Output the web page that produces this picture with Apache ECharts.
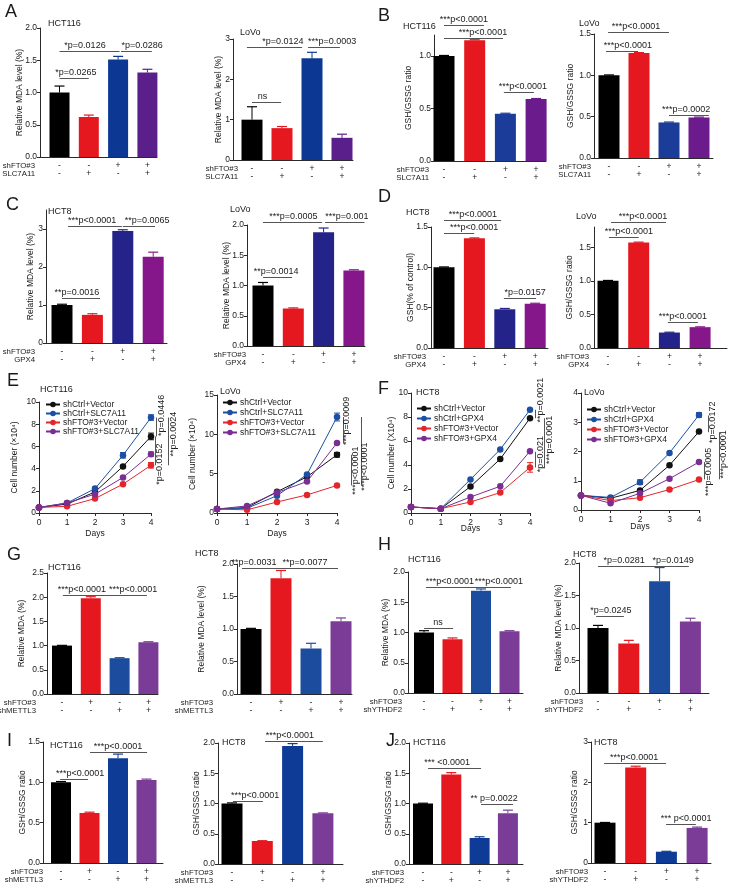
<!DOCTYPE html>
<html><head><meta charset="utf-8">
<script src="https://cdn.jsdelivr.net/npm/echarts@6/dist/echarts.min.js"></script>
<style>html,body{margin:0;padding:0;background:#fff}#c{width:732px;height:888px}</style>
</head><body><div id="c"></div>
<script>
// ================= DATA =================
// sign rows (categories)
const SG_FTO_AD = ['-','-','+','+'];
const SG_PARTNER_AD = ['-','+','-','+'];
const SG_FTO_GI = ['-','+','-','+'];
const SG_METTL3 = ['-','-','+','+'];
const SG_FTO_HJ = ['-','-','+','+'];
const SG_YTHDF2 = ['-','+','-','+'];
const ROWS_SLC = ['shFTO#3','SLC7A11'];
const ROWS_GPX = ['shFTO#3','GPX4'];
const ROWS_METTL3 = ['shFTO#3','shMETTL3'];
const ROWS_YTHDF2 = ['shFTO#3','shYTHDF2'];

// bar values / errors
const A1_vals = [1.00, 0.62, 1.51, 1.31]; const A1_errs = [0.10, 0.03, 0.05, 0.05];
const A2_vals = [1.00, 0.79, 2.52, 0.55]; const A2_errs = [0.32, 0.04, 0.15, 0.09];
const B1_vals = [1.00, 1.15, 0.45, 0.59]; const B1_errs = [0.005, 0.005, 0.005, 0.005];
const B2_vals = [1.00, 1.27, 0.43, 0.49]; const B2_errs = [0.005, 0.005, 0.005, 0.005];
const C1_vals = [1.00, 0.74, 2.95, 2.27]; const C1_errs = [0.02, 0.03, 0.03, 0.12];
const C2_vals = [1.00, 0.62, 1.88, 1.25]; const C2_errs = [0.05, 0.01, 0.07, 0.01];
const D1_vals = [1.00, 1.36, 0.48, 0.55]; const D1_errs = [0.005, 0.005, 0.01, 0.005];
const D2_vals = [1.00, 1.57, 0.23, 0.31]; const D2_errs = [0.005, 0.005, 0.005, 0.005];
const G1_vals = [1.00, 1.98, 0.74, 1.07]; const G1_errs = [0.005, 0.03, 0.01, 0.01];
const G2_vals = [1.00, 1.78, 0.70, 1.12]; const G2_errs = [0.01, 0.12, 0.08, 0.05];
const H1_vals = [1.00, 0.89, 1.69, 1.02]; const H1_errs = [0.03, 0.02, 0.03, 0.01];
const H2_vals = [1.00, 0.76, 1.72, 1.10]; const H2_errs = [0.04, 0.05, 0.21, 0.05];
const I1_vals = [1.00, 0.62, 1.30, 1.03]; const I1_errs = [0.01, 0.01, 0.05, 0.01];
const I2_vals = [1.00, 0.38, 1.95, 0.84]; const I2_errs = [0.01, 0.005, 0.04, 0.005];
const J1_vals = [1.00, 1.48, 0.43, 0.84]; const J1_errs = [0.005, 0.03, 0.02, 0.05];
const J2_vals = [1.00, 2.37, 0.28, 0.87]; const J2_errs = [0.005, 0.03, 0.01, 0.02];

// y tick values
const yt_A1 = [0, 0.5, 1.0, 1.5, 2.0];
const yt_A2 = [0, 1, 2, 3];
const yt_B1 = [0, 0.5, 1.0];
const yt_B2 = [0, 0.5, 1.0, 1.5];
const yt_C1 = [0, 1, 2, 3];
const yt_C2 = [0, 0.5, 1.0, 1.5, 2.0];
const yt_D1 = [0, 0.5, 1.0, 1.5];
const yt_D2 = [0, 0.5, 1.0, 1.5];
const yt_G1 = [0, 0.5, 1.0, 1.5, 2.0, 2.5];
const yt_G2 = [0, 0.5, 1.0, 1.5, 2.0];
const yt_H1 = [0, 0.5, 1.0, 1.5, 2.0];
const yt_H2 = [0, 0.5, 1.0, 1.5, 2.0];
const yt_I1 = [0, 0.5, 1.0, 1.5];
const yt_I2 = [0, 0.5, 1.0, 1.5, 2.0];
const yt_J1 = [0, 0.5, 1.0, 1.5, 2.0];
const yt_J2 = [0, 1, 2, 3];
const yt_E1 = [0, 2, 4, 6, 8, 10];
const yt_E2 = [0, 5, 10, 15];
const yt_F1 = [0, 2, 4, 6, 8, 10];
const yt_F2 = [0, 1, 2, 3, 4];

// significance brackets: [fromIndex, toIndex, yValue, text, textCenterIndex]
const A1_sig = [[0,1.0,1.22,'*p=0.0265',0.56],[0,2.05,1.64,'*p=0.0126',0.87],[2.1,3.15,1.64,'*p=0.0286',2.82]];
const A2_sig = [[0,0.97,1.44,'ns',0.35],[-0.17,1.67,2.80,'*p=0.0124',1.03],[1.87,2.93,2.80,'***p=0.0003',2.67]];
const B1_sig = [[0,1.3,1.30,'***p<0.0001',0.65],[0,1.92,1.17,'***p<0.0001',1.27],[1.95,2.93,0.66,'***p<0.0001',2.57]];
const B2_sig = [[-0.03,2.0,1.52,'***p<0.0001',0.9],[-0.1,0.97,1.30,'***p<0.0001',0.63],[2.0,3.33,0.52,'***p=0.0002',2.57]];
const C1_sig = [[0,1.25,1.18,'**p=0.0016',0.49],[0.2,1.97,3.08,'***p<0.0001',0.99],[2.0,3.06,3.08,'**p=0.0065',2.8]];
const C2_sig = [[0,0.96,1.14,'**p=0.0014',0.43],[0,1.95,2.05,'***p=0.0005',1.0],[2.05,3.35,2.05,'***p=0.001',2.77]];
const D1_sig = [[0,1.88,1.59,'***p<0.0001',0.95],[0,0.99,1.43,'***p<0.0001',0.99],[1.97,3.03,0.62,'*p=0.0157',2.67]];
const D2_sig = [[0.1,1.89,1.87,'***p<0.0001',1.14],[0.03,1.0,1.65,'***p<0.0001',0.68],[1.95,2.93,0.39,'***p<0.0001',2.44]];
const G1_sig = [[0.03,2.0,2.05,'***p<0.0001',0.69],[1.3,2.95,2.05,'***p<0.0001',2.47]];
const G2_sig = [[-0.3,1.0,1.94,'**p=0.0031',0.1],[1.0,2.9,1.94,'**p=0.0077',1.8]];
const H1_sig = [[0,1.02,1.07,'ns',0.49],[0.07,2.0,1.75,'***p<0.0001',0.91],[2.0,3.05,1.75,'***p<0.0001',2.63]];
const H2_sig = [[-0.06,0.84,1.19,'*p=0.0245',0.42],[0,1.98,1.96,'*p=0.0281',0.85],[1.98,2.95,1.96,'*p=0.0149',2.44]];
const I1_sig = [[-0.03,0.95,1.04,'***p<0.0001',0.67],[1.02,3.02,1.37,'***p<0.0001',2.0]];
const I2_sig = [[0.03,1.02,1.04,'***p<0.0001',0.76],[1.09,3.0,2.04,'***p<0.0001',1.91]];
const J1_sig = [[0.18,2.05,1.58,'*** <0.0001',0.85],[2.05,3.18,0.99,'** p=0.0022',2.51]];
const J2_sig = [[-0.03,1.99,2.48,'***p<0.0001',0.95],[1.99,2.96,0.97,'*** p<0.0001',2.64]];

// growth curves
const days = [0, 1, 2, 3, 4];
const E1_names = ['shCtrl+Vector','shCtrl+SLC7A11','shFTO#3+Vector','shFTO#3+SLC7A11'];
const E1_ctrlVector   = [0.5, 0.8, 1.9, 4.2, 6.9];
const E1_ctrlSLC7A11  = [0.5, 0.9, 2.2, 5.2, 8.6];
const E1_ftoVector    = [0.5, 0.6, 1.3, 2.6, 4.3];
const E1_ftoSLC7A11   = [0.5, 0.9, 1.7, 3.2, 5.3];
const E1_err = [[0,0,0,0.1,0.3],[0,0,0.1,0.25,0.25],[0,0,0,0.1,0.25],[0,0,0,0.1,0.2]];
const E2_ctrlVector   = [0.5, 0.7, 2.7, 4.6, 7.4];
const E2_ctrlSLC7A11  = [0.5, 0.6, 2.2, 4.9, 12.2];
const E2_ftoVector    = [0.5, 0.4, 1.4, 2.3, 3.5];
const E2_ftoSLC7A11   = [0.5, 0.9, 2.6, 4.0, 8.9];
const E2_err = [[0,0,0,0,0.3],[0,0,0,0,0.5],[0,0,0,0,0],[0,0,0,0,0]];
const F_names = ['shCtrl+Vector','shCtrl+GPX4','shFTO#3+Vector','shFTO#3+GPX4'];
const F1_ctrlVector = [0.5, 0.36, 2.2, 4.5, 7.9];
const F1_ctrlGPX4   = [0.5, 0.36, 2.8, 5.3, 8.6];
const F1_ftoVector  = [0.5, 0.36, 0.92, 1.7, 3.8];
const F1_ftoGPX4    = [0.5, 0.36, 1.33, 2.23, 5.15];
const F1_err = [[0,0,0,0,0],[0,0,0,0,0],[0,0,0,0,0.4],[0,0,0,0,0]];
const F2_ctrlVector = [0.5, 0.40, 0.67, 1.53, 2.68];
const F2_ctrlGPX4   = [0.5, 0.43, 0.95, 1.95, 3.25];
const F2_ftoVector  = [0.5, 0.32, 0.42, 0.70, 1.04];
const F2_ftoGPX4    = [0.5, 0.23, 0.57, 1.07, 1.64];
const F2_err = [[0,0,0,0,0],[0,0,0.08,0,0.08],[0,0,0,0,0],[0,0,0,0,0]];

// vertical brackets for growth curves: [lineDx, yFrom, yTo, text, textDx, textCenterY]
const E1_vsig = [[5,8.6,6.9,'*p=0.0446',11,8.8],[4,6.9,4.3,'*p=0.0152',9,4.4],[17,8.6,4.3,'**p=0.0024',23,7.1]];
const E2_vsig = [[6,12.2,8.9,'***p=0.0009',10,11.7],[14,7.4,3.5,'***p<0.0001',19,5.4],[24,12.2,3.5,'***p<0.0001',28,5.9]];
const F1_vsig = [[5,8.6,7.9,'**p=0.0021',11,9.4],[5,5.1,3.8,'*p=0.021',11,4.9],[14,7.9,3.8,'***p=0.0001',20,6.1]];
const F2_vsig = [[9,3.23,2.66,'*p=0.0172',14,3.0],[5,1.64,1.05,'***p=0.0005',10,1.3],[20,2.66,1.05,'***p<0.0001',25,1.9]];

// ================= STYLE / LAYOUT =================
const FONT = 'Arial, "Liberation Sans", Helvetica, sans-serif';
const AX = '#2a2a2a', TXT = '#1a1a1a', BR = '#555';
const RED = '#e5171f';
const PAL_A = ['#000000', RED, '#0c3893', '#5a1f8a'];
const PAL_B = ['#000000', RED, '#1b3c98', '#6c1b8c'];
const PAL_C = ['#000000', RED, '#23238a', '#86178a'];
const PAL_G = ['#000000', RED, '#1c4c9e', '#7a3c96'];
const PAL_I = ['#000000', RED, '#0e3b96', '#7a3c96'];
const LINE_COLORS = ['#111111', '#1d4fa3', '#e3262b', '#7a2e93'];

const barPanels = [
 {vals:A1_vals, errs:A1_errs, sig:A1_sig, ticks:yt_A1, dec:1, pal:PAL_A, rows:ROWS_SLC, s1:SG_FTO_AD, s2:SG_PARTNER_AD, yName:'Relative MDA level (%)', title:'HCT116', tx:48, ty:24, L:40, R:157, c0:59.5, s:29.3, top:28, y0:157, ymax:2.0, nameGap:12, rowX:35},
 {vals:A2_vals, errs:A2_errs, sig:A2_sig, ticks:yt_A2, dec:0, pal:PAL_A, rows:ROWS_SLC, s1:SG_FTO_AD, s2:SG_PARTNER_AD, yName:'Relative MDA level (%)', title:'LoVo', tx:240, ty:33, L:233, R:353, c0:252, s:30, top:39, y0:160, ymax:3, nameGap:7, rowX:238},
 {vals:B1_vals, errs:B1_errs, sig:B1_sig, ticks:yt_B1, dec:1, pal:PAL_B, rows:ROWS_SLC, s1:SG_FTO_AD, s2:SG_PARTNER_AD, yName:'GSH/GSSG ratio', title:'HCT116', tx:403, ty:27, L:434, R:546, c0:444, s:30.7, top:35, y0:161, ymax:1.2, nameGap:21, rowX:429},
 {vals:B2_vals, errs:B2_errs, sig:B2_sig, ticks:yt_B2, dec:1, pal:PAL_B, rows:ROWS_SLC, s1:SG_FTO_AD, s2:SG_PARTNER_AD, yName:'GSH/GSSG ratio', title:'LoVo', tx:579, ty:24, L:594, R:713, c0:609, s:30, top:34, y0:158, ymax:1.5, nameGap:19, rowX:591},
 {vals:C1_vals, errs:C1_errs, sig:C1_sig, ticks:yt_C1, dec:0, pal:PAL_C, rows:ROWS_GPX, s1:SG_FTO_AD, s2:SG_PARTNER_AD, yName:'Relative MDA level (%)', title:'HCT8', tx:48, ty:212, L:46, R:167, c0:62, s:30.4, top:210, y0:343, ymax:3.5, nameGap:11, rowX:35},
 {vals:C2_vals, errs:C2_errs, sig:C2_sig, ticks:yt_C2, dec:1, pal:PAL_C, rows:ROWS_GPX, s1:SG_FTO_AD, s2:SG_PARTNER_AD, yName:'Relative MDA level (%)', title:'LoVo', tx:230, ty:210, L:247, R:365, c0:263, s:30.3, top:225, y0:346, ymax:2.0, nameGap:8, rowX:246},
 {vals:D1_vals, errs:D1_errs, sig:D1_sig, ticks:yt_D1, dec:1, pal:PAL_C, rows:ROWS_GPX, s1:SG_FTO_AD, s2:SG_PARTNER_AD, yName:'GSH(% of control)', title:'HCT8', tx:406, ty:213, L:431, R:548, c0:444, s:30.4, top:227, y0:348, ymax:1.5, nameGap:12, rowX:426},
 {vals:D2_vals, errs:D2_errs, sig:D2_sig, ticks:yt_D2, dec:1, pal:PAL_C, rows:ROWS_GPX, s1:SG_FTO_AD, s2:SG_PARTNER_AD, yName:'GSH/GSSG ratio', title:'LoVo', tx:576, ty:217, L:594, R:727, c0:608, s:30.7, top:227, y0:348, ymax:1.8, nameGap:20, rowX:589},
 {vals:G1_vals, errs:G1_errs, sig:G1_sig, ticks:yt_G1, dec:1, pal:PAL_G, rows:ROWS_METTL3, s1:SG_FTO_GI, s2:SG_METTL3, yName:'Relative MDA (%)', title:'HCT116', tx:48, ty:568, L:47, R:158, c0:62, s:28.8, top:573, y0:694, ymax:2.5, nameGap:21, rowX:36},
 {vals:G2_vals, errs:G2_errs, sig:G2_sig, ticks:yt_G2, dec:1, pal:PAL_G, rows:ROWS_METTL3, s1:SG_FTO_GI, s2:SG_METTL3, yName:'Relative MDA level (%)', title:'HCT8', tx:195, ty:554, L:237, R:352, c0:251, s:30, top:564, y0:694, ymax:2.0, nameGap:31, rowX:213},
 {vals:H1_vals, errs:H1_errs, sig:H1_sig, ticks:yt_H1, dec:1, pal:PAL_G, rows:ROWS_YTHDF2, s1:SG_FTO_HJ, s2:SG_YTHDF2, yName:'Relative MDA (%)', title:'HCT116', tx:408, ty:560, L:408, R:523, c0:424, s:28.5, top:572, y0:693, ymax:2.0, nameGap:18, rowX:402},
 {vals:H2_vals, errs:H2_errs, sig:H2_sig, ticks:yt_H2, dec:1, pal:PAL_G, rows:ROWS_YTHDF2, s1:SG_FTO_HJ, s2:SG_YTHDF2, yName:'Relative MDA level (%)', title:'HCT8', tx:573, ty:555, L:579, R:709, c0:598, s:30.8, top:563, y0:693, ymax:2.0, nameGap:16, rowX:583},
 {vals:I1_vals, errs:I1_errs, sig:I1_sig, ticks:yt_I1, dec:1, pal:PAL_I, rows:ROWS_METTL3, s1:SG_FTO_GI, s2:SG_METTL3, yName:'GSH/GSSG ratio', title:'HCT116', tx:50, ty:746, L:43, R:163, c0:61, s:28.5, top:742, y0:863, ymax:1.5, nameGap:11, rowX:43},
 {vals:I2_vals, errs:I2_errs, sig:I2_sig, ticks:yt_I2, dec:1, pal:PAL_I, rows:ROWS_METTL3, s1:SG_FTO_GI, s2:SG_METTL3, yName:'GSH/GSSG ratio', title:'HCT8', tx:222, ty:743, L:218, R:343, c0:232, s:30.3, top:743, y0:864, ymax:2.0, nameGap:17, rowX:213},
 {vals:J1_vals, errs:J1_errs, sig:J1_sig, ticks:yt_J1, dec:1, pal:PAL_I, rows:ROWS_YTHDF2, s1:SG_FTO_HJ, s2:SG_YTHDF2, yName:'GSH/GSSG ratio', title:'HCT116', tx:413, ty:743, L:409, R:523, c0:423, s:28.3, top:743, y0:864, ymax:2.0, nameGap:15, rowX:404},
 {vals:J2_vals, errs:J2_errs, sig:J2_sig, ticks:yt_J2, dec:0, pal:PAL_I, rows:ROWS_YTHDF2, s1:SG_FTO_HJ, s2:SG_YTHDF2, yName:'GSH/GSSG ratio', title:'HCT8', tx:594, ty:743, L:591, R:711, c0:605, s:30.7, top:742, y0:863, ymax:3, nameGap:12, rowX:588}
];

const linePanels = [
 {names:E1_names, series:[E1_ctrlVector,E1_ctrlSLC7A11,E1_ftoVector,E1_ftoSLC7A11], errs:E1_err, vsig:E1_vsig, ticks:yt_E1, ymax:10, yName:'Cell number (\u00d710\u2074)', title:'HCT116', tx:40, ty:390, L:39, R:151, top:402, y0:513, nameGap:20, daysGap:16, lg:{left:45, top:400, lh:7.3, gap:0}},
 {names:E1_names, series:[E2_ctrlVector,E2_ctrlSLC7A11,E2_ftoVector,E2_ftoSLC7A11], errs:E2_err, vsig:E2_vsig, ticks:yt_E2, ymax:15, yName:'Cell number (\u00d710\u2074)', title:'LoVo', tx:220, ty:392, L:217, R:337, top:395, y0:513, nameGap:20, daysGap:16, lg:{left:222, top:398, lh:8, gap:1}},
 {names:F_names, series:[F1_ctrlVector,F1_ctrlGPX4,F1_ftoVector,F1_ftoGPX4], errs:F1_err, vsig:F1_vsig, ticks:yt_F1, ymax:10, yName:'Cell number (X10\u2074)', title:'HCT8', tx:416, ty:393, L:411, R:530, top:393, y0:513, nameGap:15, daysGap:11, lg:{left:416, top:404, lh:8, gap:1}},
 {names:F_names, series:[F2_ctrlVector,F2_ctrlGPX4,F2_ftoVector,F2_ftoGPX4], errs:F2_err, vsig:F2_vsig, ticks:yt_F2, ymax:4, yName:'', title:'LoVo', tx:584, ty:393, L:581, R:699, top:393, y0:510, nameGap:12, daysGap:12, lg:{left:586, top:405, lh:8, gap:1}}
];

const letters = [['A',5,12],['B',378,16],['C',6,205],['D',378,197],['E',7,381],['F',378,389],['G',7,555],['H',378,545],['I',7,741],['J',386,741]];

// ================= BUILD =================
const option = {animation:false, textStyle:{fontFamily:FONT}, grid:[], xAxis:[], yAxis:[], series:[], legend:[]};
const lbl = {fontSize:8.5, color:TXT, fontFamily:FONT};

barPanels.forEach((p, gi) => {
  p.gi = gi;
  const gap = Math.max(p.nameGap, p.dec === 1 ? 16 : 10);
  option.grid.push({left:p.L, top:p.top, width:p.R - p.L, height:p.y0 - p.top});
  option.xAxis.push({gridIndex:gi, type:'value', min:(p.L - p.c0)/p.s, max:(p.R - p.c0)/p.s,
    axisLine:{show:true, onZero:false, lineStyle:{color:AX, width:1}}, axisTick:{show:false}, splitLine:{show:false},
    axisLabel:Object.assign({show:true, customValues:[0,1,2,3], lineHeight:8.5, margin:4,
      formatter:(v) => { const i = Math.round(v); return p.s1[i] + '\n' + p.s2[i]; }}, lbl)});
  option.yAxis.push({gridIndex:gi, type:'value', min:0, max:p.ymax,
    axisLine:{show:true, onZero:false, lineStyle:{color:AX, width:1}},
    axisTick:{show:true, length:3, customValues:p.ticks, lineStyle:{color:AX}},
    axisLabel:Object.assign({customValues:p.ticks, margin:3, formatter:(v) => Number(v).toFixed(p.dec)}, lbl),
    splitLine:{show:false}, name:p.yName, nameLocation:'middle', nameGap:gap, nameMoveOverlap:false,
    nameTextStyle:{fontSize:8.5, color:TXT, fontFamily:FONT}});
  option.series.push({type:'bar', xAxisIndex:gi, yAxisIndex:gi, barWidth:Math.round(p.s*0.69), silent:true,
    data:p.vals.map((v,i) => ({value:[i, v], itemStyle:{color:p.pal[i]}}))});
  option.series.push({type:'custom', xAxisIndex:gi, yAxisIndex:gi, z:5, silent:true,
    data:p.vals.map((v,i) => [i, v, p.errs[i]]),
    renderItem:(params, api) => {
      const x = api.value(0), v = api.value(1), e = api.value(2);
      if (!e) return null;
      const b = api.coord([x, v]), t = api.coord([x, v + e]);
      const c = p.pal[params.dataIndex];
      return {type:'group', children:[
        {type:'line', shape:{x1:b[0], y1:b[1], x2:t[0], y2:t[1]}, style:{stroke:c, lineWidth:1}},
        {type:'line', shape:{x1:t[0]-5, y1:t[1], x2:t[0]+5, y2:t[1]}, style:{stroke:c, lineWidth:1.2}}]};
    }});
});

linePanels.forEach((p, k) => {
  const gi = barPanels.length + k; p.gi = gi;
  option.grid.push({left:p.L, top:p.top, width:p.R - p.L, height:p.y0 - p.top});
  option.xAxis.push({gridIndex:gi, type:'value', min:0, max:4, interval:1,
    axisLine:{show:true, onZero:false, lineStyle:{color:AX, width:1}},
    axisTick:{show:true, length:3, lineStyle:{color:AX}}, splitLine:{show:false},
    axisLabel:Object.assign({margin:5}, lbl),
    name:'Days', nameLocation:'middle', nameGap:p.daysGap, nameMoveOverlap:false,
    nameTextStyle:{fontSize:8.5, color:TXT, fontFamily:FONT}});
  option.yAxis.push({gridIndex:gi, type:'value', min:0, max:p.ymax,
    axisLine:{show:true, onZero:false, lineStyle:{color:AX, width:1}},
    axisTick:{show:true, length:3, customValues:p.ticks, lineStyle:{color:AX}},
    axisLabel:Object.assign({customValues:p.ticks, margin:3}, lbl), splitLine:{show:false},
    name:p.yName, nameLocation:'middle', nameGap:p.nameGap, nameMoveOverlap:false,
    nameTextStyle:{fontSize:8.5, color:TXT, fontFamily:FONT}});
  p.series.forEach((vals, j) => {
    option.series.push({type:'line', name:p.names[j], xAxisIndex:gi, yAxisIndex:gi, clip:false, silent:true,
      symbol:'circle', symbolSize:6.5, data:days.map((d,i) => [d, vals[i]]),
      lineStyle:{width:1, color:LINE_COLORS[j]}, itemStyle:{color:LINE_COLORS[j]}, z:2 + j});
  });
  const errData = [];
  p.series.forEach((vals, j) => days.forEach((d,i) => { if (p.errs[j][i]) errData.push([d, vals[i], p.errs[j][i], j]); }));
  option.series.push({type:'custom', xAxisIndex:gi, yAxisIndex:gi, z:10, silent:true, data:errData,
    renderItem:(params, api) => {
      const x = api.value(0), v = api.value(1), e = api.value(2), c = LINE_COLORS[api.value(3)];
      const lo = api.coord([x, v - e]), hi = api.coord([x, v + e]);
      return {type:'group', children:[
        {type:'line', shape:{x1:lo[0], y1:lo[1], x2:hi[0], y2:hi[1]}, style:{stroke:c, lineWidth:1}},
        {type:'line', shape:{x1:hi[0]-3, y1:hi[1], x2:hi[0]+3, y2:hi[1]}, style:{stroke:c, lineWidth:1}},
        {type:'line', shape:{x1:lo[0]-3, y1:lo[1], x2:lo[0]+3, y2:lo[1]}, style:{stroke:c, lineWidth:1}}]};
    }});
  option.legend.push({data:p.names, orient:'vertical', left:p.lg.left, top:p.lg.top, padding:0,
    itemGap:p.lg.gap, itemWidth:14, itemHeight:7, selectedMode:false,
    textStyle:{fontSize:8.5, color:TXT, fontFamily:FONT, lineHeight:p.lg.lh, padding:[0,0,0,-2]}});
});

const chart = echarts.init(document.getElementById('c'), null, {renderer:'canvas'});
chart.setOption(option);

// ================= ANNOTATIONS =================
const gfx = [];
function txt(x, y, s, opt) {
  return Object.assign({type:'text', x:x, y:y, silent:true, z:50,
    style:Object.assign({text:s, fill:TXT, fontSize:8.5, fontFamily:FONT, align:'left', verticalAlign:'middle'}, opt || {})});
}
function seg(x1, y1, x2, y2) {
  return {type:'line', silent:true, z:49, shape:{x1:x1, y1:y1, x2:x2, y2:y2}, style:{stroke:BR, lineWidth:1}};
}
const px = (gi, pt) => chart.convertToPixel({gridIndex:gi}, pt);

letters.forEach(l => gfx.push(txt(l[1], l[2], l[0], {fontSize:18})));

barPanels.forEach(p => {
  gfx.push(txt(p.tx, p.ty, p.title, {fontSize:9}));
  p.sig.forEach(b => {
    const a = px(p.gi, [b[0], b[2]]), c = px(p.gi, [b[1], b[2]]), t = px(p.gi, [b[4], b[2]]);
    const y = Math.round(a[1]) + 0.5;
    gfx.push(seg(a[0], y, c[0], y));
    gfx.push(txt(t[0], y - 1.5, b[3], {align:'center', verticalAlign:'bottom', fontSize:9}));
  });
  const base = px(p.gi, [0, 0]);
  gfx.push(txt(p.rowX, base[1] + 8.5, p.rows[0], {align:'right', fontSize:7.8}));
  gfx.push(txt(p.rowX, base[1] + 17, p.rows[1], {align:'right', fontSize:7.8}));
});

linePanels.forEach(p => {
  gfx.push(txt(p.tx, p.ty, p.title, {fontSize:9}));
  p.vsig.forEach(b => {
    const a = px(p.gi, [4, b[1]]), c = px(p.gi, [4, b[2]]), t = px(p.gi, [4, b[5]]);
    const x = Math.round(a[0] + b[0]) + 0.5;
    gfx.push(seg(x, a[1], x, c[1]));
    const el = txt(a[0] + b[4], t[1], b[3], {align:'center', verticalAlign:'middle', fontSize:9});
    el.rotation = Math.PI / 2;
    gfx.push(el);
  });
});

chart.setOption({graphic: gfx});
</script>
</body></html>
